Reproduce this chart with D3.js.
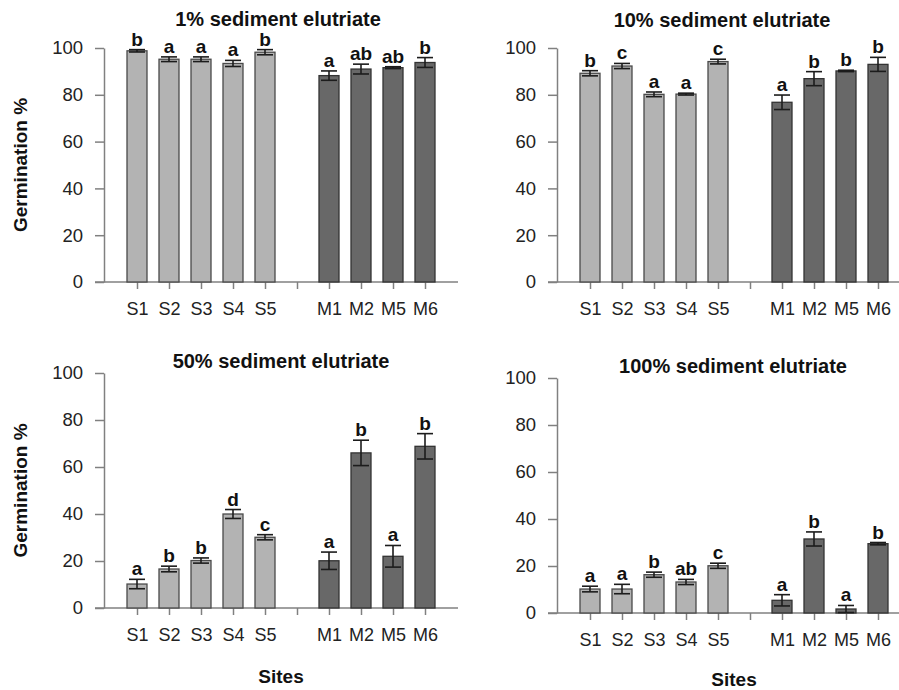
<!DOCTYPE html>
<html>
<head>
<meta charset="utf-8">
<script src="https://cdn.jsdelivr.net/npm/d3@7.9.0/dist/d3.min.js"></script>
<style>
  body { margin: 0; background: #fff; }
  svg { display: block; font-family: "Liberation Sans", Arial, sans-serif; }
</style>
</head>
<body>
<svg id="chart" width="899" height="690"></svg>
<script>
// sites on the x axis (a blank slot sits between S5 and M1)
const sites = ["S1", "S2", "S3", "S4", "S5", "M1", "M2", "M5", "M6"];
const slots = ["S1", "S2", "S3", "S4", "S5", "gap", "M1", "M2", "M5", "M6"];
const yTicks = [0, 20, 40, 60, 80, 100];

const titles = ["1% sediment elutriate", "10% sediment elutriate",
                "50% sediment elutriate", "100% sediment elutriate"];

// germination % (mean), error and significance letters, per panel
const mean1 = [98.8, 95.2, 95.2, 93.4, 98.2, 88.2, 91.0, 91.6, 93.8];
const err1 = [0.5, 1.0, 1.0, 1.3, 1.1, 2.0, 2.1, 0.4, 2.1];
const letters1 = ["b", "a", "a", "a", "b", "a", "ab", "ab", "b"];

const mean10 = [89.2, 92.3, 80.2, 80.3, 94.2, 76.8, 86.9, 90.2, 93.0];
const err10 = [1.1, 1.1, 1.0, 0.4, 1.0, 3.1, 3.0, 0.3, 3.0];
const letters10 = ["b", "c", "a", "a", "c", "a", "b", "b", "b"];

const mean50 = [10.2, 16.6, 20.2, 40.0, 30.1, 20.1, 66.0, 22.0, 68.8];
const err50 = [2.0, 1.2, 1.1, 1.9, 1.1, 3.7, 5.4, 4.6, 5.4];
const letters50 = ["a", "b", "b", "d", "c", "a", "b", "a", "b"];

const mean100 = [10.2, 10.2, 16.3, 13.2, 20.1, 5.4, 31.5, 1.7, 29.5];
const err100 = [1.2, 2.0, 1.1, 1.1, 1.1, 2.4, 3.0, 1.5, 0.5];
const letters100 = ["a", "a", "b", "ab", "c", "a", "b", "a", "b"];

const panels = [
  { title: titles[0], mean: mean1, err: err1, letters: letters1, ax: 104, y0: 282, y100: 48, right: 458, titleX: 278, titleY: 26, ylabel: true, xlabel: false },
  { title: titles[1], mean: mean10, err: err10, letters: letters10, ax: 557, y0: 282, y100: 48, right: 899, titleX: 722, titleY: 27, ylabel: false, xlabel: false },
  { title: titles[2], mean: mean50, err: err50, letters: letters50, ax: 104, y0: 608, y100: 373, right: 458, titleX: 281, titleY: 368, ylabel: true, xlabel: true },
  { title: titles[3], mean: mean100, err: err100, letters: letters100, ax: 557, y0: 613, y100: 378, right: 899, titleX: 733, titleY: 373, ylabel: false, xlabel: true }
];

const svg = d3.select("#chart");
const axisColor = "#808080";
const barW = 20;

panels.forEach(p => {
  const g = svg.append("g");

  const y = d3.scaleLinear().domain([0, 100]).range([p.y0, p.y100]);
  const x = d3.scalePoint().domain(slots).range([p.ax + 33, p.ax + 321]);

  // x axis baseline
  g.append("line")
    .attr("x1", p.ax - 9).attr("x2", p.right)
    .attr("y1", y(0)).attr("y2", y(0))
    .attr("stroke", axisColor).attr("stroke-width", 1.5);

  const xAxis = g.append("g")
    .attr("transform", `translate(0,${y(0)})`)
    .call(d3.axisBottom(x).tickSize(7).tickPadding(13)
      .tickFormat(d => d === "gap" ? "" : d));
  xAxis.select(".domain").remove();
  xAxis.selectAll("line").attr("stroke", axisColor).attr("stroke-width", 1.5);
  xAxis.selectAll("text").attr("font-size", 18).attr("fill", "#222")
    .attr("font-family", "Liberation Sans, Arial, sans-serif");

  const yAxis = g.append("g")
    .attr("transform", `translate(${p.ax},0)`)
    .call(d3.axisLeft(y).tickValues(yTicks).tickSize(9).tickSizeOuter(0).tickPadding(12));
  yAxis.select(".domain").attr("stroke", axisColor).attr("stroke-width", 1.5);
  yAxis.selectAll("line").attr("stroke", axisColor).attr("stroke-width", 1.5);
  yAxis.selectAll("text").attr("font-size", 18.5).attr("fill", "#222")
    .attr("font-family", "Liberation Sans, Arial, sans-serif");

  const rows = sites.map((s, i) => ({ site: s, v: p.mean[i], e: p.err[i], l: p.letters[i] }));

  // bars
  g.selectAll("rect.bar").data(rows).join("rect")
    .attr("class", "bar")
    .attr("x", d => x(d.site) - barW / 2)
    .attr("width", barW)
    .attr("y", d => y(d.v))
    .attr("height", d => y(0) - y(d.v))
    .attr("fill", d => d.site[0] === "M" ? "#686868" : "#b3b3b3")
    .attr("stroke", d => d.site[0] === "M" ? "#333" : "#4a4a4a")
    .attr("stroke-width", 1.3);

  // error bars
  const eb = g.selectAll("g.err").data(rows).join("g").attr("class", "err")
    .attr("stroke", "#1c1c1c").attr("stroke-width", 1.6);
  eb.append("line")
    .attr("x1", d => x(d.site)).attr("x2", d => x(d.site))
    .attr("y1", d => y(d.v + d.e)).attr("y2", d => y(Math.max(0, d.v - d.e)));
  eb.append("line")
    .attr("x1", d => x(d.site) - 8).attr("x2", d => x(d.site) + 8)
    .attr("y1", d => y(d.v + d.e)).attr("y2", d => y(d.v + d.e));
  eb.append("line")
    .attr("x1", d => x(d.site) - 8).attr("x2", d => x(d.site) + 8)
    .attr("y1", d => y(Math.max(0, d.v - d.e))).attr("y2", d => y(Math.max(0, d.v - d.e)));

  // significance letters
  g.selectAll("text.sig").data(rows).join("text")
    .attr("class", "sig")
    .attr("x", d => x(d.site))
    .attr("y", d => y(d.v + d.e) - 4)
    .attr("text-anchor", "middle")
    .attr("font-size", 19).attr("font-weight", "bold").attr("fill", "#111")
    .text(d => d.l);

  // title
  g.append("text")
    .attr("x", p.titleX).attr("y", p.titleY)
    .attr("text-anchor", "middle")
    .attr("font-size", 20).attr("font-weight", "bold").attr("fill", "#111")
    .text(p.title);

  if (p.ylabel) {
    g.append("text")
      .attr("transform", `translate(27,${(p.y0 + p.y100) / 2})rotate(-90)`)
      .attr("text-anchor", "middle")
      .attr("font-size", 19).attr("font-weight", "bold").attr("fill", "#111")
      .text("Germination %");
  }
  if (p.xlabel) {
    g.append("text")
      .attr("x", x("gap") - 16).attr("y", Math.min(p.y0 + 75, 686))
      .attr("text-anchor", "middle")
      .attr("font-size", 19).attr("font-weight", "bold").attr("fill", "#111")
      .text("Sites");
  }
});
</script>
</body>
</html>
